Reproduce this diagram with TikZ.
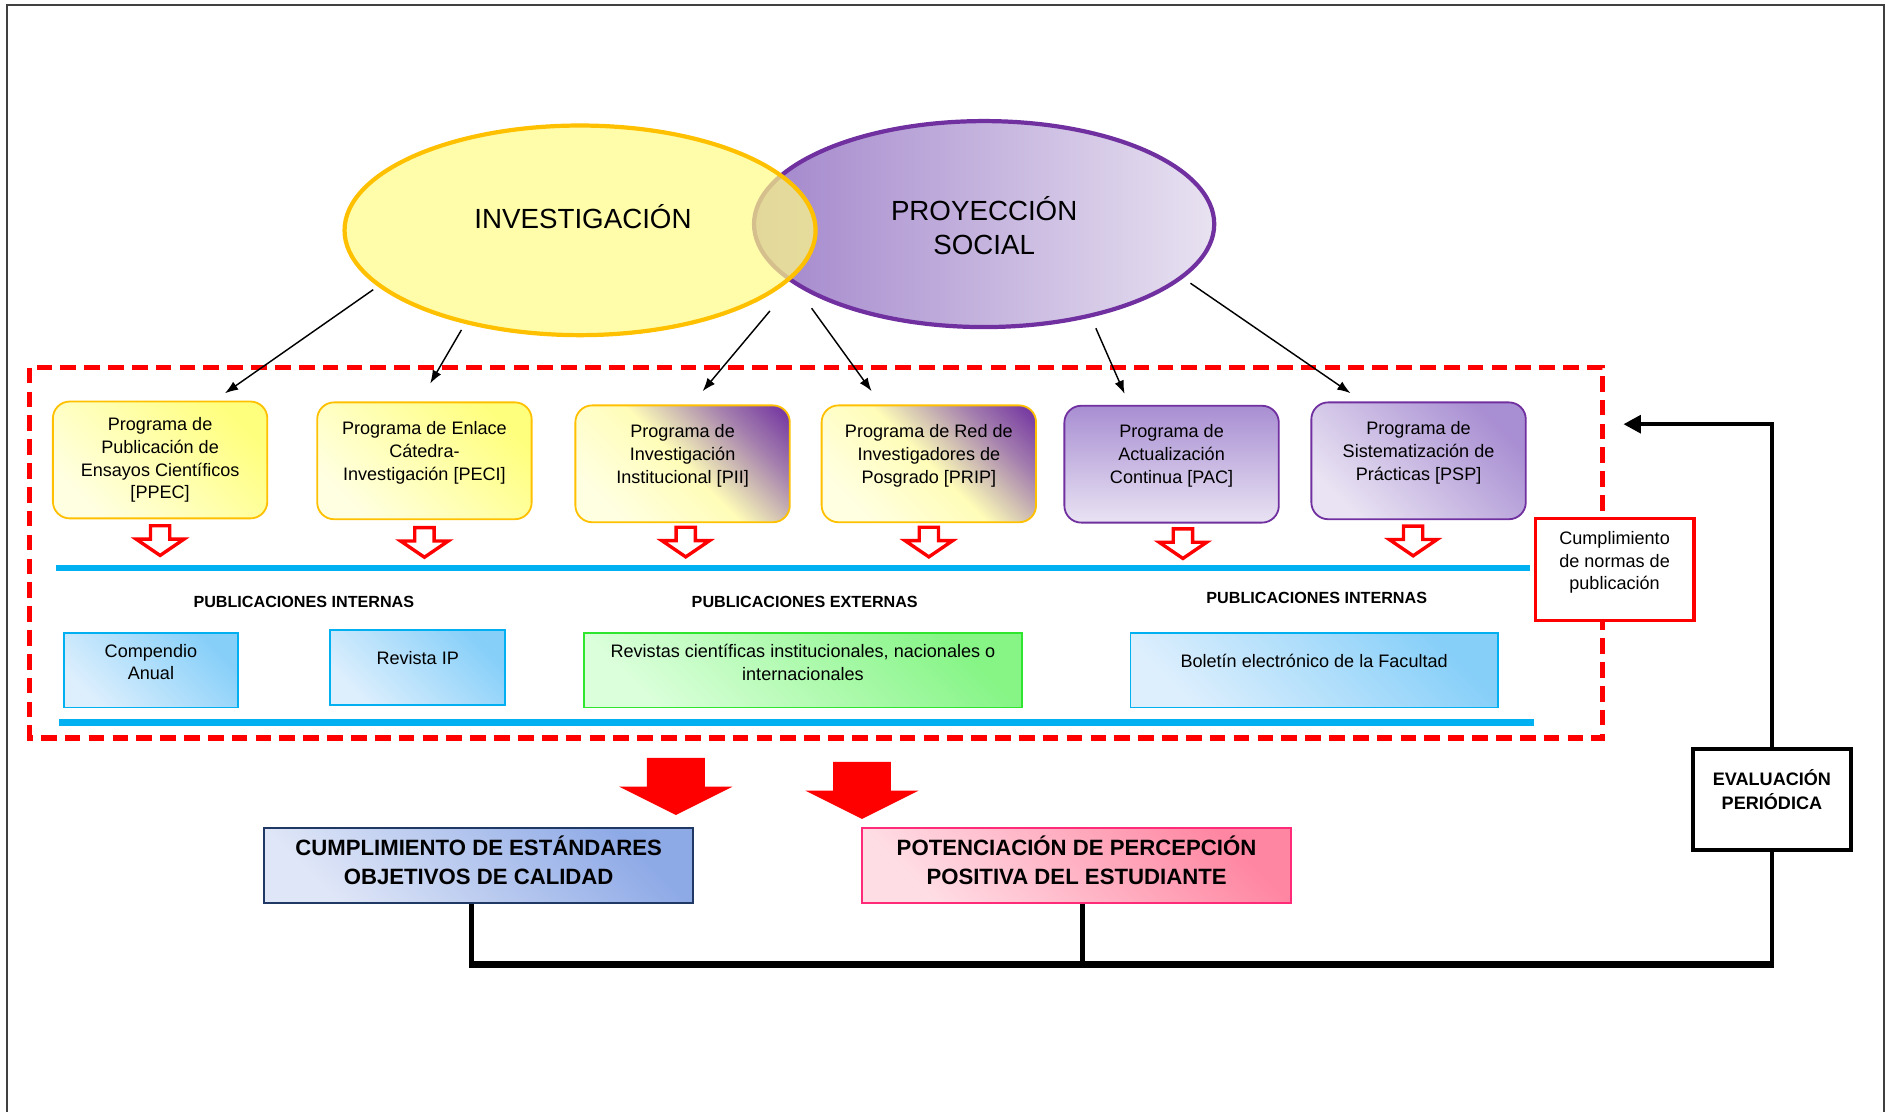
\documentclass[tikz,border=0pt]{standalone}
\usepackage{fontspec}
\setmainfont{Liberation Sans}
\usetikzlibrary{shapes.geometric}
\usetikzlibrary{arrows.meta}
\usetikzlibrary{calc}

\definecolor{gold}{HTML}{FFC000}
\definecolor{lemonfill}{HTML}{FFFC86}
\definecolor{lemonstrong}{HTML}{FFFF7E}
\definecolor{lemonpale}{HTML}{FFFFE2}
\definecolor{lemonsoft}{HTML}{FFFDB8}
\definecolor{tanmix}{HTML}{D9CBB4}
\definecolor{mauvemix}{HTML}{A47FAE}
\definecolor{invviolet}{HTML}{7030A0}
\definecolor{lilacdeep}{HTML}{A88ED2}
\definecolor{lilacpale}{HTML}{E9E3F3}
\definecolor{lilacleft}{HTML}{A285CB}
\definecolor{lilacright}{HTML}{E8E2F1}
\definecolor{skyline}{HTML}{00B0F0}
\definecolor{skyfill}{HTML}{86CFF9}
\definecolor{skypale}{HTML}{DDEFFD}
\definecolor{mintline}{HTML}{2EE62E}
\definecolor{mintfill}{HTML}{86F586}
\definecolor{mintpale}{HTML}{DAFFDA}
\definecolor{navyline}{HTML}{1F3864}
\definecolor{steelfill}{HTML}{8DA9E6}
\definecolor{steelpale}{HTML}{DFE6F7}
\definecolor{roseline}{HTML}{FF2A78}
\definecolor{rosefill}{HTML}{FF86A2}
\definecolor{rosepale}{HTML}{FFDDE5}
\definecolor{framegray}{HTML}{404040}

\pgfdeclarehorizontalshading{lemonviolet}{100bp}{color(0bp)=(lemonpale); color(25bp)=(lemonpale); color(50bp)=(lemonsoft); color(58bp)=(tanmix); color(70bp)=(mauvemix); color(85bp)=(invviolet); color(100bp)=(invviolet)}

\tikzset{>=Latex, line width=1.0pt,
  invell/.style={ellipse, draw=gold, line width=3.5pt, fill=lemonfill, fill opacity=0.7,
    minimum width=391pt, minimum height=174pt, inner sep=0pt, outer sep=0pt},
  proyell/.style={ellipse, draw=invviolet, line width=3.5pt, left color=lilacleft, right color=lilacright,
    minimum width=382pt, minimum height=171pt, inner sep=0pt, outer sep=0pt},
  progbox/.style={rectangle, rounded corners=14pt, line width=1.5pt,
    minimum width=178pt, minimum height=97pt, inner sep=0pt},
  lemonbox/.style={progbox, draw=gold, top color=lemonstrong, bottom color=lemonpale, shading angle=-45},
  mixbox/.style={progbox, draw=gold, shade, shading=lemonviolet, shading angle=45},
  lilacbox/.style={progbox, draw=invviolet, top color=lilacdeep, bottom color=lilacpale},
  lilacdiag/.style={lilacbox, shading angle=-45},
  pubbox/.style={rectangle, draw=skyline, line width=1.5pt, top color=skyfill, bottom color=skypale,
    shading angle=-45, minimum height=62pt, inner sep=0pt},
  extbox/.style={pubbox, draw=mintline, top color=mintfill, bottom color=mintpale, shading angle=-45},
  resbox/.style={rectangle, line width=1.8pt, minimum width=356pt, minimum height=62.5pt, inner sep=0pt},
  cumbox/.style={resbox, draw=navyline, top color=steelfill, bottom color=steelpale, shading angle=-45},
  potbox/.style={resbox, draw=roseline, top color=rosefill, bottom color=rosepale, shading angle=-45},
  normbox/.style={rectangle, draw=red, line width=3pt, fill=white, minimum width=131.4pt, minimum height=84.7pt},
  evalbox/.style={rectangle, draw=black, line width=3.3pt, fill=white, minimum width=131pt, minimum height=84pt},
  boxtxt/.style={align=center, inner sep=0pt, font=\fontsize{15}{19}\selectfont},
  normtxt/.style={boxtxt, font=\fontsize{15}{18.8}\selectfont},
  pubhead/.style={inner sep=0pt, font=\bfseries\fontsize{13.4}{16}\selectfont},
  bigtxt/.style={align=center, inner sep=0pt, font=\fontsize{23}{28}\selectfont},
  restxt/.style={align=center, inner sep=0pt, font=\bfseries\fontsize{18.4}{23.5}\selectfont},
  evaltxt/.style={align=center, inner sep=0pt, font=\bfseries\fontsize{15}{20}\selectfont},
  thinarr/.style={-{Latex[length=11pt,width=8pt]}, line width=1.2pt},
  feedback/.style={-{Triangle[length=14.5pt,width=14.5pt]}, line width=3.8pt},
  busline/.style={line width=3.8pt},
  busbar/.style={line width=5.5pt},
  dashzone/.style={draw=red, line width=4.5pt, dash pattern=on 13pt off 6.8pt},
  bluebar/.style={draw=skyline, line width=5.5pt},
  frameline/.style={draw=framegray, line width=1.5pt},
  hollowdown/.pic={\draw[red, line width=2.8pt, fill=white, line join=miter]
    (-8,-1.4) -- (-8,-12.5) -- (-19.8,-12.5) -- (0,-26) -- (19.8,-12.5) -- (8,-12.5) -- (8,-1.4) -- cycle;},
  bigdown/.pic={\fill[red]
    (-24,0) -- (-24,-24) -- (-47,-24) -- (0,-47.5) -- (47,-24) -- (24,-24) -- (24,0) -- cycle;}
}

\begin{document}
\begin{tikzpicture}[x=1pt,y=1pt]
  \useasboundingbox (0,0) rectangle (1568,-923);
  % page frame
  \draw[frameline] (5.8,-923) -- (5.8,-4.2) -- (1563.5,-4.2) -- (1563.5,-923);

  % Proyeccion social
  \node[proyell] (proy) at (816.9,-186) {};
  \node[bigtxt] (proytxt) at ([yshift=-1.3pt]proy.center) {PROYECCIÓN\\SOCIAL};
  % Investigacion
  \node[invell] (inv) at (481.5,-191.2) {};
  \node[bigtxt] (invtxt) at ([xshift=2.4pt,yshift=11pt]inv.center) {INVESTIGACIÓN};

  % Zone of programs and publications
  \draw[dashzone] (24.7,-305.2) rectangle (1330.3,-612.7);

  % Programs
  \node[lemonbox] (ppec) at (132.9,-381.8) {};
  \node[boxtxt] (ppectxt) at (ppec.center)
    {Programa de\\Publicación de\\Ensayos Científicos\\{[PPEC]}};
  \node[lemonbox] (peci) at (352.3,-382.5) {};
  \node[boxtxt] (pecitxt) at ([yshift=6.9pt]peci.center)
    {Programa de Enlace\\Cátedra-\\Investigación [PECI]};
  \node[mixbox] (pii) at (566.6,-385) {};
  \node[boxtxt] (piitxt) at ([yshift=6.7pt]pii.center)
    {Programa de\\Investigación\\Institucional [PII]};
  \node[mixbox] (prip) at (771,-385) {};
  \node[boxtxt] (priptxt) at ([yshift=6.7pt]prip.center)
    {Programa de Red de\\Investigadores de\\Posgrado [PRIP]};
  \node[lilacbox] (pac) at (972.5,-385.3) {};
  \node[boxtxt] (pactxt) at ([yshift=7pt]pac.center)
    {Programa de\\Actualización\\Continua [PAC]};
  \node[lilacdiag] (psp) at (1177.5,-382.5) {};
  \node[boxtxt] (psptxt) at ([yshift=6.9pt]psp.center)
    {Programa de\\Sistematización de\\Prácticas [PSP]};

  % arrows from the two areas
  \draw[thinarr] ($(inv.center)!1.045!(inv.196)$) -- ([xshift=53.8pt,yshift=6.1pt]ppec.north);
  \draw[thinarr] ($(inv.center)!1.075!(inv.220)$) -- ([xshift=4.8pt,yshift=14.9pt]peci.north);
  \draw[thinarr] ($(inv.center)!1.114!(inv.337)$) -- ([xshift=16.6pt,yshift=11pt]pii.north);
  \draw[thinarr] ($(proy.center)!1.109!(proy.206)$) -- ([xshift=-47.5pt,yshift=11pt]prip.north);
  \draw[thinarr] ($(proy.center)!1.122!(proy.317)$) -- ([xshift=-39pt,yshift=9.1pt]pac.north);
  \draw[thinarr] ($(proy.center)!1.065!(proy.344)$) -- ([xshift=-56.5pt,yshift=6.9pt]psp.north);

  % hollow arrows
  \pic at ([yshift=-4pt]ppec.south) {hollowdown};
  \pic at ([yshift=-4.8pt]peci.south) {hollowdown};
  \pic at ([xshift=2.6pt,yshift=-2pt]pii.south) {hollowdown};
  \pic at ([yshift=-2pt]prip.south) {hollowdown};
  \pic at ([xshift=9.4pt,yshift=-3pt]pac.south) {hollowdown};
  \pic at ([xshift=-4.5pt,yshift=-3.6pt]psp.south) {hollowdown};

  % blue bars
  \draw[bluebar] (46.5,-471.6) -- (1270,-471.6);
  \draw[bluebar] (49,-599.6) -- (1273,-599.6);

  % headings
  \node[pubhead] (intleft) at (252.2,-499.4) {PUBLICACIONES INTERNAS};
  \node[pubhead] (extmid) at (668,-499.4) {PUBLICACIONES EXTERNAS};
  \node[pubhead] (intright) at (1093,-496.1) {PUBLICACIONES INTERNAS};

  % publications
  \node[pubbox, minimum width=144.8pt] (comp) at (125.3,-556.2) {};
  \node[boxtxt] (comptxt) at ([yshift=6.7pt]comp.center) {Compendio\\Anual};
  \node[pubbox, minimum width=144.9pt] (rip) at (346.7,-554) {};
  \node[boxtxt] (riptxt) at ([yshift=7.5pt]rip.center) {Revista IP};
  \node[extbox, minimum width=363pt] (revs) at (666.5,-556.2) {};
  \node[boxtxt] (revstxt) at ([yshift=6.7pt]revs.center)
    {Revistas científicas institucionales, nacionales o\\internacionales};
  \node[pubbox, minimum width=305pt] (bol) at (1090.8,-556.2) {};
  \node[boxtxt] (boltxt) at ([yshift=7.5pt]bol.center) {Boletín electrónico de la Facultad};

  % publication norms
  \node[normbox] (norm) at (1340.2,-472.8) {};
  \node[normtxt] (normlbl) at ([yshift=6pt]norm.center) {Cumplimiento\\de normas de\\publicación};

  % outcomes
  \pic at (561,-629) {bigdown};
  \pic at (715.5,-632.3) {bigdown};
  \node[cumbox] (cum) at (397.3,-718.3) {};
  \node[restxt] (cumtxt) at ([yshift=4.3pt]cum.center)
    {CUMPLIMIENTO DE ESTÁNDARES\\OBJETIVOS DE CALIDAD};
  \node[potbox] (pot) at (893.6,-718.3) {};
  \node[restxt] (pottxt) at ([yshift=4.3pt]pot.center)
    {POTENCIACIÓN DE PERCEPCIÓN\\POSITIVA DEL ESTUDIANTE};

  % periodic evaluation
  \node[evalbox] (eval) at (1470.8,-663.4) {};
  \node[evaltxt] (evallbl) at ([yshift=8pt]eval.center) {EVALUACIÓN\\PERIÓDICA};
  \coordinate (normtip) at (1347.5,-352.1);
  \draw[feedback] (eval.north) |- (normtip);

  % bus
  \coordinate (cumfoot) at (391.2,-800.5);
  \coordinate (potfoot) at (898.4,-800.5);
  \coordinate (evalfoot) at (eval.south |- cumfoot);
  \draw[busline] (cumfoot |- cum.south) -- (cumfoot);
  \draw[busline] (potfoot |- pot.south) -- (potfoot);
  \draw[busline] (eval.south) -- (evalfoot);
  \draw[busbar] ([xshift=-1.9pt]cumfoot) -- ([xshift=1.9pt]evalfoot);
\end{tikzpicture}
\end{document}
